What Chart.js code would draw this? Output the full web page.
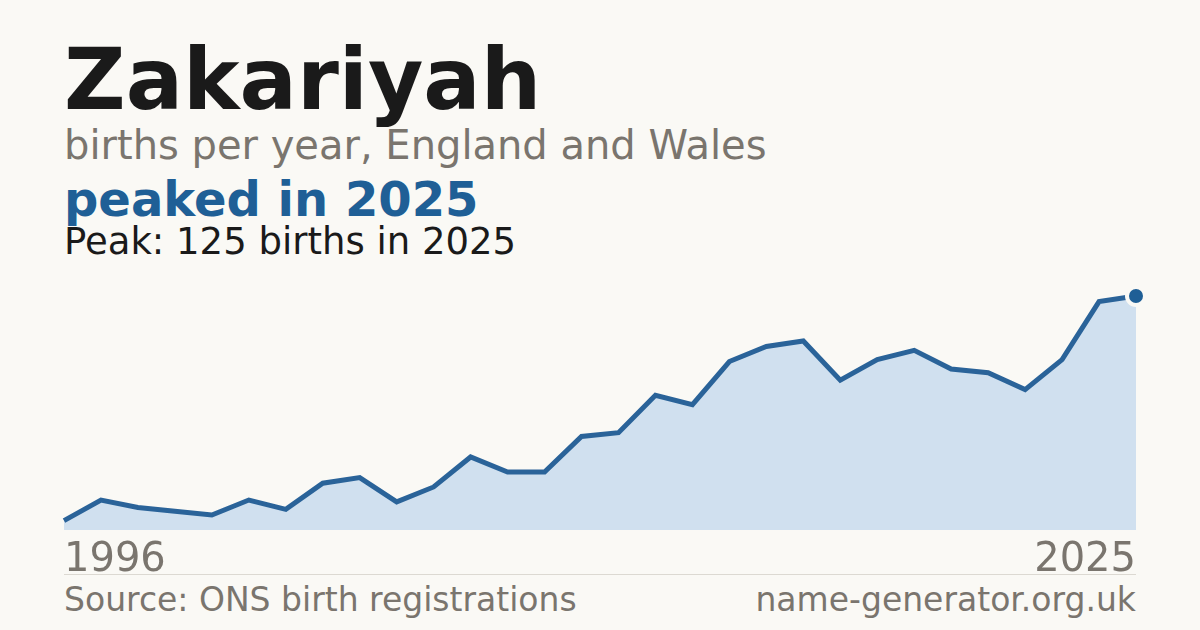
<!DOCTYPE html>
<html>
<head>
<meta charset="utf-8">
<script src="https://cdn.jsdelivr.net/npm/chart.js@4/dist/chart.umd.min.js"></script>
<style>
  html, body { margin: 0; padding: 0; }
  body { width: 1200px; height: 630px; background: #faf9f5; position: relative; overflow: hidden; font-family: "DejaVu Sans", sans-serif; }
  .t { position: absolute; left: 64px; white-space: nowrap; line-height: 1; }
  #title { top: 37px; font-size: 85px; font-weight: bold; color: #1a1a1a; }
  #sub { top: 125px; font-size: 40px; color: #7a756e; }
  #peaked { top: 175px; font-size: 48px; font-weight: bold; color: #1f5f96; }
  #peak { top: 223px; font-size: 37px; color: #1a1a1a; }
  #y0 { top: 537px; font-size: 40px; color: #7a756e; }
  #y1 { top: 537px; left: auto; right: 64px; font-size: 40px; color: #7a756e; }
  #rule { position: absolute; left: 64px; width: 1072px; top: 574px; height: 1px; background: #dcd9d2; }
  #src { top: 583px; font-size: 33px; color: #7a756e; }
  #site { top: 583px; left: auto; right: 64px; font-size: 33px; color: #7a756e; }
  #chart { position: absolute; left: 44px; top: 266px; width: 1112px; height: 274px; }
</style>
</head>
<body>
<div class="t" id="title">Zakariyah</div>
<div class="t" id="sub">births per year, England and Wales</div>
<div class="t" id="peaked">peaked in 2025</div>
<div class="t" id="peak">Peak: 125 births in 2025</div>
<canvas id="chart" width="1112" height="274"></canvas>
<div class="t" id="y0">1996</div>
<div class="t" id="y1">2025</div>
<div id="rule"></div>
<div class="t" id="src">Source: ONS birth registrations</div>
<div class="t" id="site">name-generator.org.uk</div>
<script>
const years = [1996, 1997, 1998, 1999, 2000, 2001, 2002, 2003, 2004, 2005,
  2006, 2007, 2008, 2009, 2010, 2011, 2012, 2013, 2014, 2015,
  2016, 2017, 2018, 2019, 2020, 2021, 2022, 2023, 2024, 2025];
const births = [5, 16, 12, 10, 8, 16, 11, 25, 28, 15,
  23, 39, 31, 31, 50, 52, 72, 67, 90, 98,
  101, 80, 91, 96, 86, 84, 75, 91, 122, 125];

// only the last point gets a dot
const lastIdx = births.length - 1;
const radii = births.map((v, i) => i === lastIdx ? 9 : 0);

const ctx = document.getElementById('chart').getContext('2d');
new Chart(ctx, {
  type: 'line',
  data: {
    labels: years,
    datasets: [{
      data: births,
      borderColor: '#2a6399',
      borderWidth: 5,
      backgroundColor: '#d0e0ef',
      fill: 'origin',
      tension: 0,
      clip: false,
      pointRadius: radii,
      pointHoverRadius: radii,
      pointBackgroundColor: '#1f5f96',
      pointBorderColor: '#faf9f5',
      pointBorderWidth: 4
    }]
  },
  options: {
    responsive: false,
    animation: false,
    layout: { autoPadding: false, padding: { left: 20, right: 20, top: 30, bottom: 10 } },
    plugins: { legend: { display: false }, tooltip: { enabled: false } },
    scales: {
      x: { display: false },
      y: { display: false, min: 0, max: 125 }
    }
  }
});
</script>
</body>
</html>
